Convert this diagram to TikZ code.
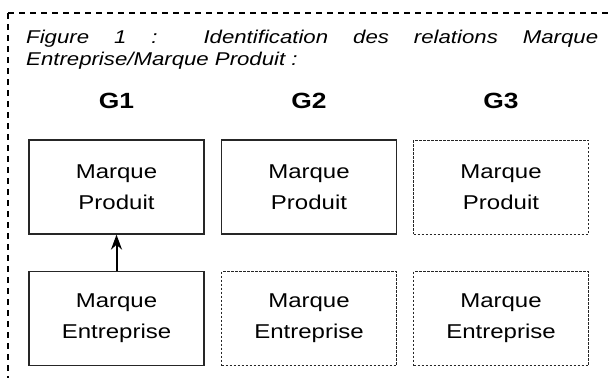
\documentclass[tikz,border=0pt]{standalone}
\usepackage{fontspec}
\setmainfont{Liberation Sans}[FakeStretch=1.2]
\usepackage{tikz}
\usetikzlibrary{arrows.meta}

\begin{document}
\begin{tikzpicture}[x=1pt, y=-1pt, >={Stealth[length=15pt,width=11pt]},
  box/.style={draw=black!85, line width=1.2pt, minimum width=175pt, minimum height=94pt,
    inner sep=0pt, align=center, font=\fontsize{20}{31}\selectfont},
  dbox/.style={box, line width=0.9pt, dash pattern=on 2.5pt off 1.5pt},
  grp/.style={anchor=base, font=\fontsize{22}{26}\selectfont\bfseries},
  frame/.style={line width=2.6pt, dash pattern=on 6pt off 5pt}]
\useasboundingbox (0,0) rectangle (608,378);
\draw[frame] (8,13) -- (608,13);
\draw[frame] (8,13) -- (8,378);
\node[anchor=base west, text width=572pt, align=justify, inner sep=0pt,
  font=\fontsize{18.5}{22}\selectfont\itshape] (title) at (26,43)
  {Figure 1 : Identification des relations Marque\linebreak Entreprise/Marque Produit :};
\node[grp] (g1) at (116.5,108) {G1};
\node[grp] (g2) at (309,108) {G2};
\node[grp] (g3) at (501,108) {G3};
\node[box] (prod1) at (116.5,187) {Marque\\Produit};
\node[box] (prod2) at (309,187) {Marque\\Produit};
\node[dbox] (prod3) at (501,187) {Marque\\Produit};
\node[box] (ent1) at (116.5,318.5) {Marque\\Entreprise};
\node[dbox] (ent2) at (309,318.5) {Marque\\Entreprise};
\node[dbox] (ent3) at (501,318.5) {Marque\\Entreprise};
\draw[->, line width=2pt] (ent1) -- (prod1);
\end{tikzpicture}
\end{document}
